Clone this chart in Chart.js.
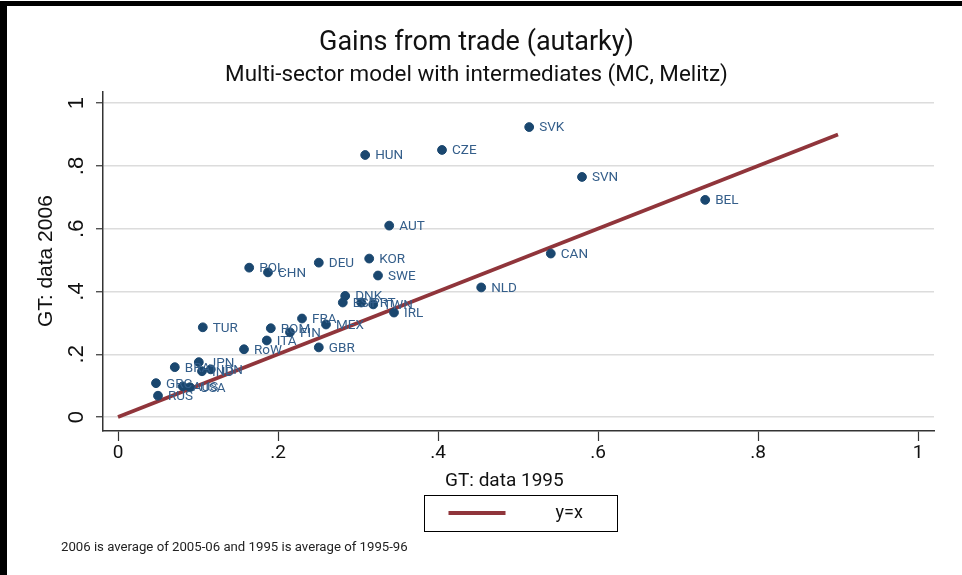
<!DOCTYPE html>
<html>
<head>
<meta charset="utf-8">
<script src="https://cdn.jsdelivr.net/npm/chart.js@4.4.0/dist/chart.umd.min.js"></script>
<style>
  html, body { margin: 0; padding: 0; background: #fff; }
  #wrap { width: 962px; height: 575px; }
</style>
</head>
<body>
<div id="wrap"><canvas id="myChart" width="962" height="575"></canvas></div>
<script>

// values
const countries = ['SVK', 'CZE', 'HUN', 'SVN', 'BEL', 'AUT', 'CAN', 'KOR', 'DEU', 'POL', 'CHN', 'SWE',
  'NLD', 'DNK', 'ESP', 'PRT', 'TWN', 'IRL', 'FRA', 'MEX', 'TUR', 'ROM', 'FIN', 'ITA', 'GBR', 'RoW',
  'JPN', 'BRA', 'IND', 'IDN', 'GRC', 'AUS', 'USA', 'RUS'];
const gt1995 = [0.514, 0.405, 0.309, 0.580, 0.734, 0.339, 0.541, 0.314, 0.251, 0.164, 0.1875, 0.325,
  0.454, 0.284, 0.281, 0.304, 0.319, 0.345, 0.230, 0.260, 0.106, 0.191, 0.215, 0.186, 0.251, 0.1575,
  0.101, 0.071, 0.105, 0.116, 0.0475, 0.081, 0.090, 0.050];
const gt2006 = [0.924, 0.851, 0.835, 0.765, 0.692, 0.610, 0.521, 0.505, 0.492, 0.476, 0.461, 0.451,
  0.413, 0.386, 0.365, 0.365, 0.359, 0.333, 0.314, 0.295, 0.286, 0.283, 0.270, 0.244, 0.222, 0.216,
  0.175, 0.159, 0.146, 0.152, 0.108, 0.098, 0.095, 0.068];

const lineX = [0, 0.9];
const lineY = [0, 0.9];

const tickValues = [0, 0.2, 0.4, 0.6, 0.8, 1];
const tickLabels = ['0', '.2', '.4', '.6', '.8', '1'];

const din = "Roboto, 'Liberation Sans', sans-serif";
const arial = "'Liberation Sans', Arial, sans-serif";
const navy = '#1a476f';
const maroon = '#90353b';

const points = countries.map((c, i) => ({x: gt1995[i], y: gt2006[i]}));
const line = lineX.map((v, i) => ({x: v, y: lineY[i]}));

function tickText(value) {
  const i = tickValues.findIndex(v => Math.abs(v - value) < 1e-9);
  return i >= 0 ? tickLabels[i] : '';
}

// white page + black frame edges
const framePlugin = {
  id: 'frame',
  beforeDraw(chart) {
    const ctx = chart.ctx;
    ctx.save();
    ctx.fillStyle = '#fff';
    ctx.fillRect(0, 0, chart.width, chart.height);
    ctx.fillStyle = '#000';
    ctx.fillRect(0, 1, chart.width, 5);
    ctx.fillRect(0, 1, 7, chart.height);
    ctx.restore();
  }
};

// country names to the right of the markers
const markerLabels = {
  id: 'markerLabels',
  afterDatasetsDraw(chart) {
    const ctx = chart.ctx;
    const meta = chart.getDatasetMeta(1);
    ctx.save();
    ctx.font = '13.5px ' + din;
    ctx.fillStyle = '#345e8a';
    ctx.textAlign = 'left';
    ctx.textBaseline = 'middle';
    meta.data.forEach((pt, i) => {
      ctx.fillText(countries[i], pt.x + 10, pt.y + 1);
    });
    ctx.restore();
  }
};

// boxed legend and note under the plot
const bottomBits = {
  id: 'bottomBits',
  afterDraw(chart) {
    const ctx = chart.ctx;
    const ca = chart.chartArea;
    const ds = chart.data.datasets[0];
    const cx = (ca.left + ca.right) / 2 + 2;
    ctx.save();
    ctx.strokeStyle = '#000';
    ctx.lineWidth = 1;
    ctx.strokeRect(Math.round(cx - 96.5) + 0.5, 495.5, 193, 36);
    ctx.strokeStyle = ds.borderColor;
    ctx.lineWidth = 4;
    ctx.beginPath();
    ctx.moveTo(cx - 72, 513);
    ctx.lineTo(cx - 15, 513);
    ctx.stroke();
    ctx.fillStyle = '#111';
    ctx.font = '18px ' + din;
    ctx.textBaseline = 'middle';
    ctx.fillText(ds.label, cx + 35, 513);
    ctx.font = '13.2px ' + din;
    ctx.fillStyle = '#222';
    ctx.fillText('2006 is average of 2005-06 and 1995 is average of 1995-96', 61, 548);
    ctx.restore();
  }
};

const config = {
  type: 'scatter',
  data: {
    datasets: [{
      type: 'line',
      label: 'y=x',
      data: line,
      borderColor: maroon,
      borderWidth: 3.8,
      pointRadius: 0,
      fill: false,
      order: 2
    }, {
      label: 'GT',
      data: points,
      backgroundColor: navy,
      borderColor: navy,
      pointRadius: 4.4,
      pointHoverRadius: 4.4,
      order: 1
    }]
  },
  options: {
    responsive: false,
    animation: false,
    layout: { padding: { left: 0, right: 9, top: 0, bottom: 79 } },
    plugins: {
      legend: { display: false },
      tooltip: { enabled: false },
      title: {
        display: true,
        text: 'Gains from trade (autarky)',
        color: '#111',
        font: { family: din, size: 27, weight: 'normal' },
        padding: { top: 27, bottom: 0 }
      },
      subtitle: {
        display: true,
        text: 'Multi-sector model with intermediates (MC, Melitz)',
        color: '#111',
        font: { family: din, size: 22.4, weight: 'normal' },
        padding: { top: 3, bottom: 2 }
      }
    },
    scales: {
      x: {
        type: 'linear',
        min: -0.01875,
        max: 1.02,
        afterBuildTicks: (s) => { s.ticks = tickValues.map(v => ({value: v})); },
        afterFit: (s) => { s.height = 65; },
        grid: { drawOnChartArea: false, drawTicks: true, tickLength: 10, tickColor: '#333', tickWidth: 1.2 },
        border: { color: '#333', width: 1.5 },
        ticks: {
          callback: (v) => tickText(v),
          color: '#111',
          font: { family: din, size: 19 },
          padding: 1,
          maxRotation: 0
        },
        title: {
          display: true,
          text: 'GT: data 1995      ',
          color: '#111',
          font: { family: din, size: 19 },
          padding: { top: 0, bottom: 3 }
        }
      },
      y: {
        type: 'linear',
        min: -0.0444,
        max: 1.038,
        afterBuildTicks: (s) => { s.ticks = tickValues.map(v => ({value: v})); },
        afterFit: (s) => { s.width = 103; },
        grid: { color: '#dcdcdc', lineWidth: 1.5, tickLength: 7, tickColor: '#333', tickWidth: 1.2 },
        border: { color: '#333', width: 1.5 },
        ticks: {
          callback: (v) => tickText(v),
          color: '#111',
          font: { family: arial, size: 22 },
          padding: 10,
          minRotation: 90,
          maxRotation: 90,
          crossAlign: 'center'
        },
        title: {
          display: true,
          text: 'GT: data 2006',
          color: '#111',
          font: { family: arial, size: 21 },
          padding: { top: 34, bottom: 0 }
        }
      },
      // empty right margin of the plot region
      yRight: {
        type: 'linear',
        position: 'right',
        min: 0,
        max: 1,
        afterFit: (s) => { s.width = 19; },
        grid: { display: false, drawTicks: false },
        border: { display: false },
        ticks: { display: false },
        title: { display: false }
      }
    }
  },
  plugins: [framePlugin, markerLabels, bottomBits]
};

const myChart = new Chart(document.getElementById('myChart'), config);
</script>
</body>
</html>
